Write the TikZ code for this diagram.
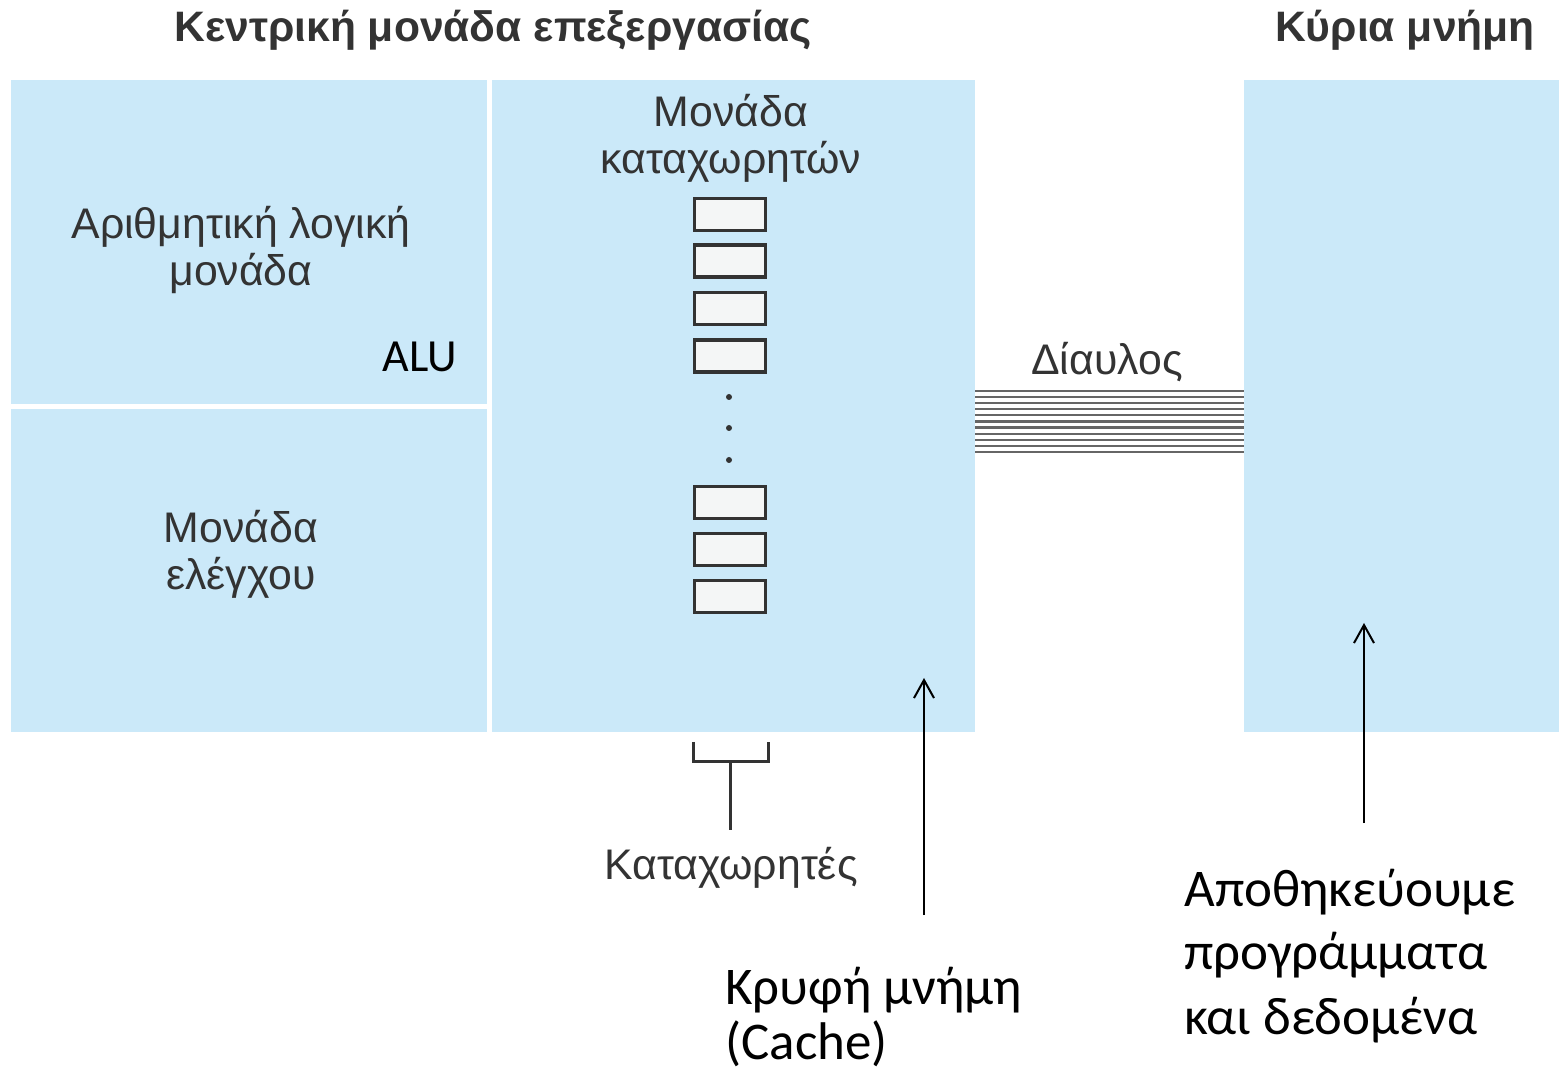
\documentclass[tikz,border=0pt]{standalone}
\usepackage{fontspec}
\setmainfont{Liberation Sans}
\newfontfamily\calibri{Carlito}
\usetikzlibrary{arrows.meta,fit}
\definecolor{cpublue}{HTML}{CBE9F9}
\definecolor{inkgray}{HTML}{333333}
\definecolor{regfill}{HTML}{F4F6F6}
\definecolor{busgray}{HTML}{666666}
% annotation text: Calibri-style lines, first baseline on the node's base
\newcommand{\notelines}[2]{\calibri\fontsize{26.5}{#1}\selectfont\begin{tabular}[t]{@{}l@{}}#2\end{tabular}}
\tikzset{
  block/.style={fill=cpublue, draw=none, inner sep=0pt},
  reg/.style={draw=inkgray, fill=regfill, line width=1.6pt, minimum width=35.5pt, minimum height=16pt, inner sep=0pt},
  arial/.style={text=inkgray, font=\fontsize{21.4}{23.5}\selectfont, align=center, inner sep=0pt},
  title/.style={text=inkgray, font=\fontsize{21.3}{24}\selectfont\bfseries, inner sep=0pt},
  note/.style={text=black, inner sep=0pt, anchor=base west},
  pointer/.style={-{Straight Barb[length=9pt,width=10pt]}, line width=1pt, black},
  busline/.style={busgray, line width=1.1pt},
  bracket/.style={inkgray, line width=1.5pt},
}
\begin{document}
\begin{tikzpicture}[x=0.5pt, y=-0.5pt]
\useasboundingbox (0,0) rectangle (1559,1074);

% processor blocks and main memory
\node (alu)  [block, fit={(11,80) (487,404)}] {};
\node (ctrl) [block, fit={(11,409) (487,732)}] {};
\node (regs) [block, fit={(492,80) (975,732)}] {};
\node (mem)  [block, fit={(1244,80) (1559,732)}] {};

% headings
\node (cputitle) [title] at (493,30) {Κεντρική μονάδα επεξεργασίας};
\node (memtitle) [title] at (1405,30) {Κύρια μνήμη};

% block texts
\node (alutext)  [arial] at (241,250) {Αριθμητική λογική\\μονάδα};
\node (alulbl)   [text=black, inner sep=0pt, font=\calibri\fontsize{23}{27}\selectfont] at (420,357) {ALU};
\node (ctrltext) [arial] at (241,554) {Μονάδα\\ελέγχου};
\node (regtext)  [arial] at (731,138) {Μονάδα\\καταχωρητών};

% register stack
\foreach \n/\y in {1/214.5, 2/261, 3/308.5, 4/356, 5/502.5, 6/549.5, 7/596.5}
  \node (r\n) [reg] at (730,\y) {};
\foreach \y in {397, 428, 460}
  \fill[inkgray] (729,\y) circle (1.5pt);

% bus between the processor and main memory
\node (bustext) [arial] at (1107,362) {Δίαυλος};
\foreach \i in {0,...,10}
  \draw[busline] (regs.east |- 0,{391+6.1*\i}) -- (mem.west |- 0,{391+6.1*\i});

% bracket marking the registers
\node (reglbl) [arial] at (731,868) {Καταχωρητές};
\coordinate (brl) at (693,742);
\coordinate (brr) at (768,742);
\coordinate (brm) at (730,762);
\coordinate (brfoot) at (730,830);
\draw[bracket] (brl) |- (brm) -| (brr);
\draw[bracket] (brm) -- (brfoot);

% annotations
\node (cachelbl) [note] at (725,1004) {\notelines{27.5}{Κρυφή μνήμη\\(Cache)}};
\coordinate (cachetip) at (924,678);
\coordinate (cachefoot) at (924,915);
\draw[pointer] (cachefoot) -- (cachetip);

\node (memlbl) [note] at (1184,906) {\notelines{32}{Αποθηκεύουμε\\προγράμματα\\και δεδομένα}};
\coordinate (memtip) at (1364,623);
\coordinate (memfoot) at (1364,823);
\draw[pointer] (memfoot) -- (memtip);
\end{tikzpicture}
\end{document}
